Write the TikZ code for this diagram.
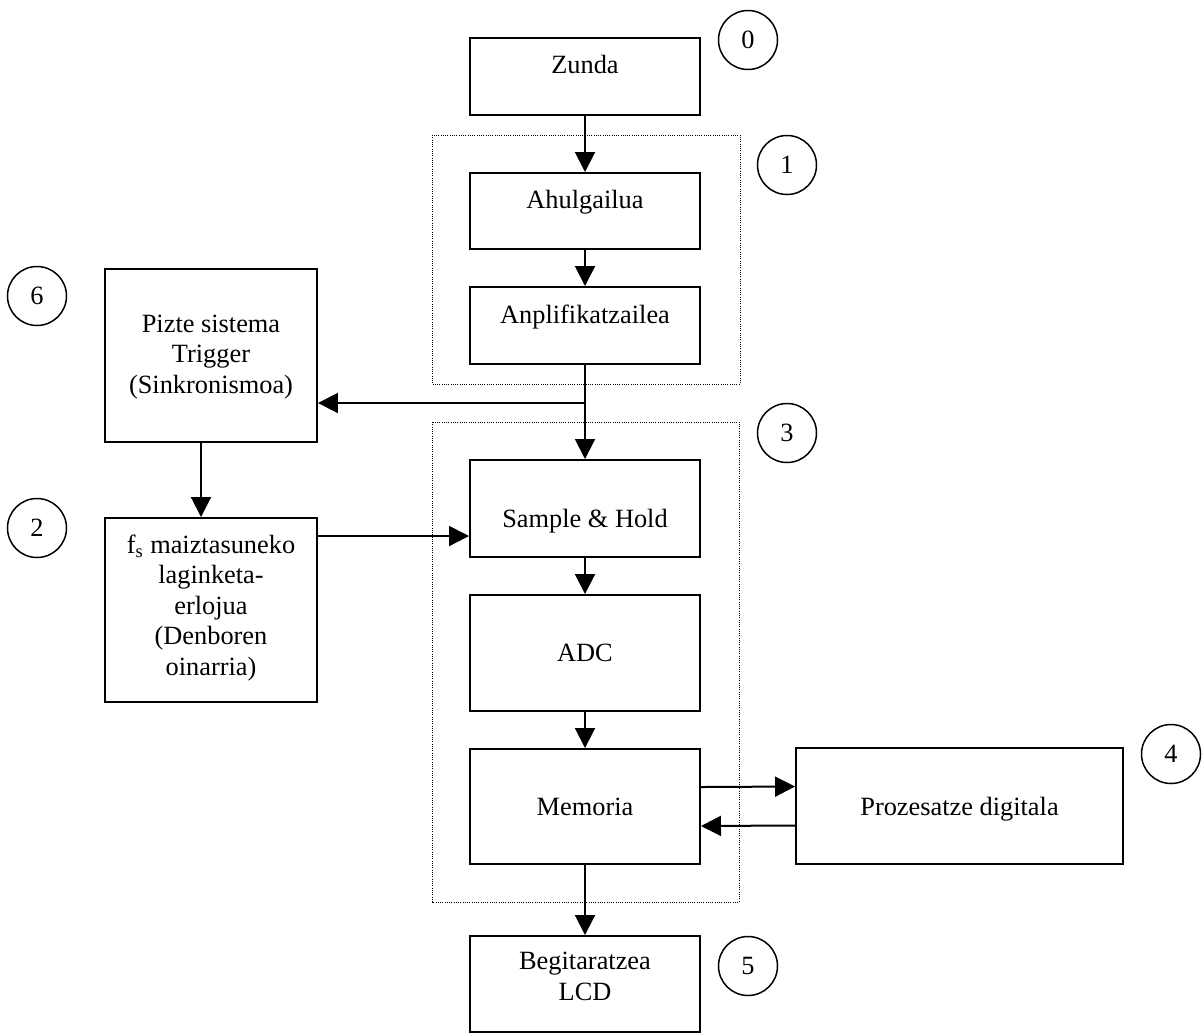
\documentclass[tikz,border=0pt]{standalone}
\usepackage{fontspec}
\setmainfont{Liberation Serif}
\usetikzlibrary{arrows.meta, positioning, calc}

\tikzset{
  blk/.style={draw, line width=0.04cm, inner sep=0pt},
  txt/.style={anchor=base, align=center, inner sep=0pt, font=\fontsize{15}{17.3}\selectfont},
  num/.style={draw, circle, line width=0.03cm, minimum size=1.18cm, inner sep=0pt, font=\fontsize{15}{17}\selectfont},
  grp/.style={line width=0.02cm, dash pattern=on 0.02cm off 0.025cm},
  link/.style={->, line width=0.04cm},
}

\begin{document}
\begin{tikzpicture}[x=0.02cm, y=-0.02cm, >={Triangle[length=0.4cm, width=0.4cm]}]
\useasboundingbox (0,0) rectangle (1202,1035);

% dotted groups
\draw [grp] (432,135) rectangle (740,384);
\draw [grp] (432,422) rectangle (739,902);

% main chain (text anchored on the baseline of the last line)
\node [blk, minimum width=4.6cm, minimum height=1.54cm] (zunda) at (585,76.5) {};
\node [txt] (zundaT) at (585,73) {Zunda};
\node [blk, minimum width=4.6cm, minimum height=1.52cm] (ahul) at (585,211) {};
\node [txt] (ahulT) at (585,208) {Ahulgailua};
\node [blk, minimum width=4.6cm, minimum height=1.54cm] (anpl) at (585,325.5) {};
\node [txt] (anplT) at (585,323) {Anplifikatzailea};
\node [blk, minimum width=4.6cm, minimum height=1.94cm] (sh) at (585,508.5) {};
\node [txt] (shT) at (585,527) {Sample \& Hold};
\node [blk, minimum width=4.6cm, minimum height=2.32cm] (adc) at (585,653) {};
\node [txt] (adcT) at (585,661) {ADC};
\node [blk, minimum width=4.6cm, minimum height=2.3cm] (mem) at (585,806.5) {};
\node [txt] (memT) at (585,815) {Memoria};
\node [blk, minimum width=4.6cm, minimum height=1.92cm] (lcd) at (585,984) {};
\node [txt] (lcdT) at (585,1000) {Begitaratzea\\LCD};

% side blocks
\node [blk, minimum width=6.54cm, minimum height=2.32cm] (proz) at (959.5,806) {};
\node [txt] (prozT) at (959.5,815) {Prozesatze digitala};
\node [blk, minimum width=4.24cm, minimum height=3.46cm] (trig) at (211,355.5) {};
\node [txt] (trigT) at (211,393) {Pizte sistema\\Trigger\\(Sinkronismoa)};
\node [blk, minimum width=4.24cm, minimum height=3.68cm] (fs) at (211,610) {};
\node [txt] (fsT) at (211,675) {f\textsubscript{s} maiztasuneko\\laginketa-\\erlojua\\(Denboren\\oinarria)};

% block numbers
\node [num] (n0) at (748,40) {0};
\node [num] (n1) at (787,165) {1};
\node [num] (n6) at (37,296) {6};
\node [num] (n3) at (787,433) {3};
\node [num] (n2) at (37,528) {2};
\node [num] (n4) at (1171,754) {4};
\node [num] (n5) at (748,966) {5};

% signal path
\draw [link] (zunda) -- (ahul);
\draw [link] (ahul) -- (anpl);
\draw [link] (anpl) -- (sh);
\draw [link] (sh) -- (adc);
\draw [link] (adc) -- (mem);
\draw [link] (mem) -- (lcd);

% trigger and clock
\coordinate (tap) at (585,403);
\draw [link] (tap) -- (tap -| trig.east);
\draw [link] ([xshift=-0.2cm]trig.south) -- ([xshift=-0.2cm]fs.north);
\coordinate (clk) at ([yshift=-0.38cm]fs.north east);
\draw [link] (clk) -- (clk -| sh.west);

% memory <-> processing
\draw [link] ([yshift=0.39cm]mem.east) -- ([yshift=0.39cm]proz.west);
\draw [link] ([yshift=-0.39cm]proz.west) -- ([yshift=-0.39cm]mem.east);
\end{tikzpicture}
\end{document}
